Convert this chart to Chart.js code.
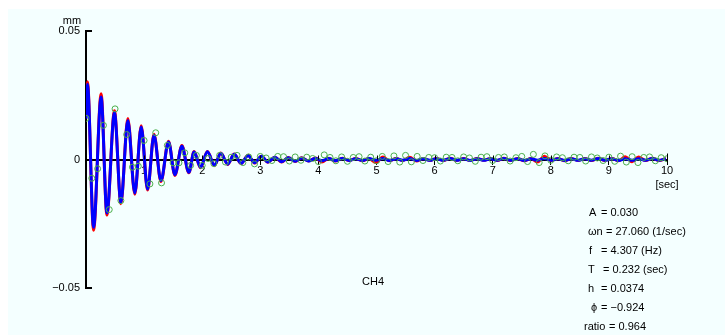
<!DOCTYPE html>
<html>
<head>
<meta charset="utf-8">
<script src="https://cdn.jsdelivr.net/npm/chart.js@4.4.1/dist/chart.umd.min.js"></script>
<style>
  html, body { margin: 0; padding: 0; background: #fff; }
  canvas { display: block; }
</style>
</head>
<body>
<canvas id="chart" width="725" height="335"></canvas>
<script>
// Axis ranges and tick labels
const xMin = 0;
const xMax = 10;
const yMin = -0.05;
const yMax = 0.05;
const xTickValues = [1, 2, 3, 4, 5, 6, 7, 8, 9, 10];

// Times (sec) of the curve extremes
const peakTimes = [
  0, 0.025, 0.13, 0.26, 0.36, 0.49, 0.60, 0.72, 0.84, 0.95,
  1.06, 1.17, 1.29, 1.42, 1.53, 1.65, 1.77, 1.86, 1.97,
  2.09, 2.21, 2.32, 2.44, 2.55, 2.67, 2.79, 2.90,
  3.02, 3.13, 3.25, 3.37, 3.48, 3.60, 3.71, 3.83, 3.95,
  4.06, 4.18, 4.29, 4.41, 4.53, 4.64, 4.76, 4.87, 4.99,
  5.11, 5.22, 5.34, 5.45, 5.57, 5.69, 5.80, 5.92,
  6.03, 6.15, 6.27, 6.38, 6.50, 6.61, 6.73, 6.85, 6.96,
  7.08, 7.19, 7.31, 7.43, 7.54, 7.66, 7.77, 7.89,
  8.01, 8.12, 8.24, 8.35, 8.47, 8.59, 8.70, 8.82, 8.93,
  9.05, 9.17, 9.28, 9.40, 9.51, 9.63, 9.75, 9.86, 9.98
];

// Blue (fitted) curve, mm
const fitValues = [
  0.0160, 0.0293, -0.0264, 0.0243, -0.0208, 0.0182, -0.0167, 0.0152, -0.0130, 0.0126,
  -0.0115, 0.0094, -0.0082, 0.0068, -0.0059, 0.0052, -0.0050, 0.0029, -0.0030,
  0.0030, -0.0022, 0.0024, -0.0018, 0.0020, -0.0015, 0.0016, -0.0013,
  0.0013, -0.0010, 0.0009, -0.0009, 0.0007, -0.0007, 0.0006, -0.0006, 0.0005,
  -0.0005, 0.0004, -0.0005, 0.0004, -0.0004, 0.0003, -0.0004, 0.0004, -0.0003,
  0.0004, -0.0004, 0.0003, -0.0003, 0.0004, -0.0004, 0.0003, -0.0003,
  0.0003, -0.0003, 0.0004, -0.0003, 0.0003, -0.0004, 0.0003, -0.0003, 0.0003,
  -0.0003, 0.0004, -0.0003, 0.0003, -0.0004, 0.0003, -0.0003, 0.0004,
  -0.0003, 0.0003, -0.0004, 0.0003, -0.0003, 0.0003, -0.0003, 0.0004, -0.0003,
  0.0003, -0.0004, 0.0003, -0.0003, 0.0003, -0.0003, 0.0004, -0.0003, 0.0003
];

// Red (measured) curve, mm
const measuredValues = [
  0.0170, 0.0303, -0.0275, 0.0256, -0.0216, 0.0190, -0.0172, 0.0160, -0.0135, 0.0131,
  -0.0119, 0.0098, -0.0086, 0.0071, -0.0062, 0.0054, -0.0052, 0.0031, -0.0032,
  0.0031, -0.0024, 0.0025, -0.0019, 0.0021, -0.0016, 0.0017, -0.0014,
  0.0013, -0.0011, 0.0009, -0.0010, 0.0008, -0.0008, 0.0007, -0.0006, 0.0006,
  -0.0010, 0.0005, -0.0006, 0.0005, -0.0004, 0.0004, -0.0005, 0.0004, -0.0012,
  0.0010, -0.0005, 0.0004, -0.0004, 0.0009, -0.0006, 0.0004, -0.0004,
  0.0004, -0.0004, 0.0005, -0.0004, 0.0004, -0.0004, 0.0004, -0.0003, 0.0004,
  -0.0004, 0.0005, -0.0004, 0.0004, -0.0005, 0.0004, -0.0010, 0.0013,
  -0.0004, 0.0004, -0.0005, 0.0004, -0.0004, 0.0004, -0.0004, 0.0005, -0.0004,
  0.0004, -0.0005, 0.0011, -0.0009, 0.0010, -0.0004, 0.0005, -0.0004, 0.0004
];

// Green sample points, every 0.1 sec
const sampleTimes = [
  0.0, 0.1, 0.2, 0.3, 0.4, 0.5, 0.6, 0.7, 0.8, 0.9,
  1.0, 1.1, 1.2, 1.3, 1.4, 1.5, 1.6, 1.7, 1.8, 1.9,
  2.0, 2.1, 2.2, 2.3, 2.4, 2.5, 2.6, 2.7, 2.8, 2.9,
  3.0, 3.1, 3.2, 3.3, 3.4, 3.5, 3.6, 3.7, 3.8, 3.9,
  4.0, 4.1, 4.2, 4.3, 4.4, 4.5, 4.6, 4.7, 4.8, 4.9,
  5.0, 5.1, 5.2, 5.3, 5.4, 5.5, 5.6, 5.7, 5.8, 5.9,
  6.0, 6.1, 6.2, 6.3, 6.4, 6.5, 6.6, 6.7, 6.8, 6.9,
  7.0, 7.1, 7.2, 7.3, 7.4, 7.5, 7.6, 7.7, 7.8, 7.9,
  8.0, 8.1, 8.2, 8.3, 8.4, 8.5, 8.6, 8.7, 8.8, 8.9,
  9.0, 9.1, 9.2, 9.3, 9.4, 9.5, 9.6, 9.7, 9.8, 9.9,
  10.0
];
const sampleValues = [
  0.0160, -0.0073, -0.0036, 0.0133, -0.0195, 0.0197, -0.0160, 0.0097, -0.0030, -0.0026,
  0.0074, -0.0095, 0.0104, -0.0091, 0.0055, -0.0013, -0.0013, 0.0026, -0.0023, 0.0016,
  -0.0023, 0.0004, -0.0016, 0.0016, -0.0010, 0.0009, 0.0016, -0.0012, 0.0010, -0.0017,
  0.0012, 0.0006, -0.0004, 0.0012, 0.0011, -0.0006, 0.0010, -0.0003, 0.0009, 0.0004,
  -0.0008, 0.0018, 0.0008, -0.0005, 0.0010, -0.0007, 0.0008, 0.0011, -0.0006, 0.0009,
  -0.0005, 0.0012, -0.0008, 0.0014, -0.0010, 0.0016, -0.0009, 0.0012, -0.0004, 0.0008,
  0.0007, -0.0006, 0.0009, 0.0008, -0.0005, 0.0010, 0.0006, -0.0007, 0.0009, 0.0011,
  -0.0004, 0.0008, 0.0010, -0.0006, 0.0007, 0.0012, -0.0008, 0.0020, -0.0012, 0.0014,
  -0.0003, 0.0010, 0.0007, -0.0005, 0.0009, 0.0008, -0.0006, 0.0010, 0.0006, -0.0004,
  0.0009, -0.0007, 0.0013, -0.0010, 0.0011, -0.0012, 0.0008, 0.0010, -0.0005, 0.0007,
  0.0003
];

// Fit results shown at bottom right
const paramLines = [
  ["A", "= 0.030"],
  ["\u03c9n", "= 27.060 (1/sec)"],
  ["f", "= 4.307 (Hz)"],
  ["T", "= 0.232 (sec)"],
  ["h", "= 0.0374"],
  ["\u03d5", "= \u22120.924"],
  ["ratio", "= 0.964"]
];

const FONT = '"Liberation Sans", Arial, sans-serif';

const toPoints = (ts, vs) => ts.map((t, i) => ({ x: t, y: vs[i] }));

const fmtY = (v) => {
  if (Math.abs(v) < 1e-9) return "0";
  return v < 0 ? "\u2212" + Math.abs(v).toFixed(2) : v.toFixed(2);
};

const panelPlugin = {
  id: "panel",
  beforeDraw(chart) {
    const ctx = chart.ctx;
    ctx.save();
    ctx.fillStyle = "#ffffff";
    ctx.fillRect(0, 0, chart.width, chart.height);
    ctx.fillStyle = "#f4ffff";
    ctx.fillRect(8, 9, chart.width - 8, chart.height - 9);
    ctx.restore();
  },
  afterDraw(chart) {
    const ctx = chart.ctx;
    const x = chart.scales.x;
    const y = chart.scales.y;
    const y0 = y.getPixelForValue(0);
    ctx.save();
    ctx.strokeStyle = "#000";

    // short inward ticks on the y axis
    ctx.lineWidth = 2;
    [yMax, yMin].forEach((v) => {
      const py = Math.round(y.getPixelForValue(v));
      ctx.beginPath();
      ctx.moveTo(x.left, py);
      ctx.lineTo(x.left + 6, py);
      ctx.stroke();
    });

    // upper half of the x ticks
    ctx.lineWidth = 1;
    xTickValues.forEach((v) => {
      const px = Math.round(x.getPixelForValue(v)) + 0.5;
      ctx.beginPath();
      ctx.moveTo(px, y0);
      ctx.lineTo(px, y0 - (v === xMax ? 6 : 4));
      ctx.stroke();
    });

    ctx.fillStyle = "#000";
    ctx.font = "11px " + FONT;
    ctx.textBaseline = "middle";
    ctx.textAlign = "center";
    ctx.fillText("mm", 72, 21);
    ctx.fillText("[sec]", 667, 185);
    ctx.fillText("CH4", 373, 282);

    // parameter block
    ctx.textAlign = "left";
    const labelX = [589, 588, 589, 588, 588, 591, 584];
    const valueX = [601, 606, 601, 603, 601, 601, 609];
    paramLines.forEach((row, i) => {
      const py = 213 + i * 19;
      ctx.fillText(row[0], labelX[i], py);
      ctx.fillText(row[1], valueX[i], py);
    });
    ctx.restore();
  }
};

new Chart(document.getElementById("chart"), {
  type: "line",
  data: {
    datasets: [
      {
        label: "sample",
        data: toPoints(sampleTimes, sampleValues),
        showLine: false,
        pointStyle: "circle",
        pointRadius: 3,
        pointBorderWidth: 1,
        pointBorderColor: "#4caf4c",
        pointBackgroundColor: "rgba(0,0,0,0)",
        order: 0
      },
      {
        label: "fit",
        data: toPoints(peakTimes, fitValues),
        borderColor: "#0000ff",
        borderWidth: 3,
        pointRadius: 0,
        cubicInterpolationMode: "monotone",
        order: 1
      },
      {
        label: "measured",
        data: toPoints(peakTimes, measuredValues),
        borderColor: "#ff0000",
        borderWidth: 3,
        pointRadius: 0,
        cubicInterpolationMode: "monotone",
        order: 2
      }
    ]
  },
  options: {
    responsive: false,
    animation: false,
    devicePixelRatio: 1,
    layout: { padding: { left: 8, top: 31, right: 58, bottom: 47 } },
    plugins: {
      legend: { display: false },
      tooltip: { enabled: false }
    },
    scales: {
      x: {
        type: "linear",
        min: xMin,
        max: xMax,
        position: { y: 0 },
        ticks: {
          stepSize: 1,
          padding: 1,
          maxRotation: 0,
          color: "#000",
          font: { family: FONT, size: 11 },
          callback: (v) => (v === 0 ? "" : String(v))
        },
        grid: { drawOnChartArea: false, drawTicks: true, tickLength: 4, color: "#000", lineWidth: 1 },
        border: { color: "#000", width: 2 }
      },
      y: {
        type: "linear",
        min: yMin,
        max: yMax,
        afterFit: (scale) => { scale.width = 78; },
        ticks: {
          stepSize: 0.05,
          padding: 6,
          color: "#000",
          font: { family: FONT, size: 11 },
          callback: (v) => fmtY(v)
        },
        grid: { drawOnChartArea: false, drawTicks: false },
        border: { color: "#000", width: 2 }
      }
    }
  },
  plugins: [panelPlugin]
});
</script>
</body>
</html>
